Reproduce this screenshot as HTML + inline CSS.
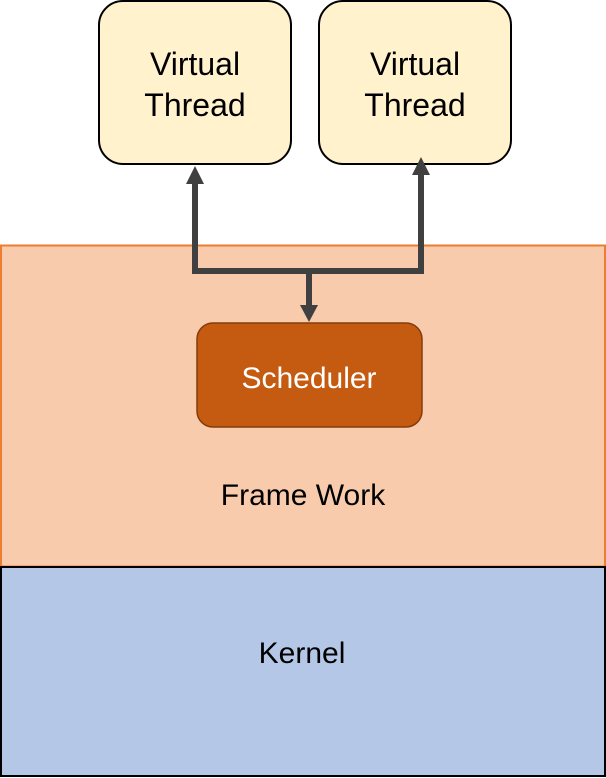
<!DOCTYPE html>
<html><head><meta charset="utf-8"><style>
body{margin:0;width:606px;height:778px;overflow:hidden;background:#fff}
svg{display:block}
text{font-family:"Liberation Sans","DejaVu Sans",sans-serif}
</style></head><body>
<svg width="606" height="778" viewBox="0 0 606 778" xmlns="http://www.w3.org/2000/svg">
<rect x="0" y="0" width="606" height="778" fill="#fff"/>
<rect x="1" y="245.5" width="604" height="321" fill="#F8CBAD" stroke="#ED7D31" stroke-width="2"/>
<rect x="1" y="567" width="604" height="209" fill="#B4C7E7" stroke="#000" stroke-width="2"/>
<rect x="99" y="1" width="192" height="163" rx="24" fill="#FFF2CC" stroke="#000" stroke-width="2"/>
<rect x="319" y="1" width="192" height="163" rx="24" fill="#FFF2CC" stroke="#000" stroke-width="2"/>
<text x="195" y="75" font-size="32" text-anchor="middle" fill="#000">Virtual</text>
<text x="195" y="116" font-size="32" text-anchor="middle" fill="#000">Thread</text>
<text x="415" y="75" font-size="32" text-anchor="middle" fill="#000">Virtual</text>
<text x="415" y="116" font-size="32" text-anchor="middle" fill="#000">Thread</text>
<path d="M195 183 V271 H421 V174 M309 271 V306" fill="none" stroke="#404040" stroke-width="6"/>
<polygon points="195,166 186,184 204,184" fill="#404040"/>
<polygon points="421,157 412,175 430,175" fill="#404040"/>
<polygon points="309,322 300,305 318,305" fill="#404040"/>
<rect x="197" y="323" width="225" height="104" rx="16" fill="#C55A11" stroke="#843C0C" stroke-width="1.5"/>
<text x="309" y="388" font-size="30" text-anchor="middle" fill="#fff">Scheduler</text>
<text x="303" y="505" font-size="30" text-anchor="middle" fill="#000">Frame Work</text>
<text x="302" y="663" font-size="30" text-anchor="middle" fill="#000">Kernel</text>
</svg>
</body></html>
